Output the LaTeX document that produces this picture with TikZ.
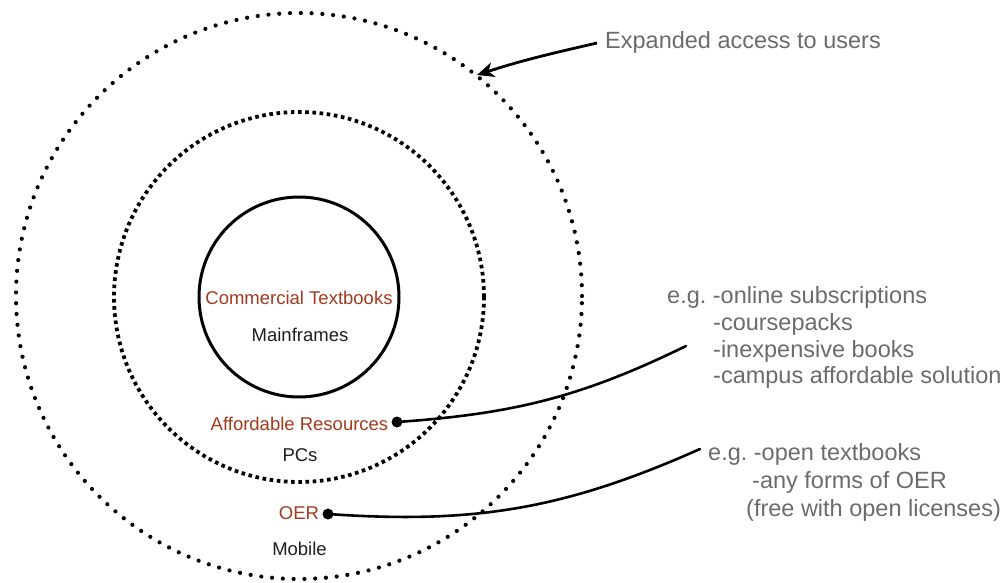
\documentclass[tikz,border=0pt]{standalone}
\usepackage{fontspec}
\setmainfont{Liberation Sans}
\usetikzlibrary{arrows.meta}
\definecolor{labred}{HTML}{A33A1F}
\definecolor{notegray}{HTML}{6B6B6B}
\definecolor{labblack}{HTML}{1E1E1E}
\tikzset{
  ring/.style={draw=black, circle, inner sep=0pt},
  solidring/.style={ring, line width=3pt},
  fineDots/.style={ring, line width=3.8pt, dash pattern=on 3.6pt off 3.6pt, line cap=butt},
  wideDots/.style={ring, line width=4.2pt, dash pattern=on 0pt off 10.8pt, line cap=round},
  redlabel/.style={inner sep=0pt, anchor=base, text=labred, font=\fontsize{18.5}{22}\selectfont},
  blacklabel/.style={inner sep=0pt, anchor=base, text=labblack, font=\fontsize{18.5}{22}\selectfont},
  note/.style={inner sep=0pt, anchor=base west, text=notegray, font=\fontsize{23.5}{27}\selectfont\frenchspacing},
  dotmark/.style={circle, fill=black, inner sep=0pt, minimum size=11pt},
  conn/.style={draw=black, line width=2.6pt, line cap=round},
  pointer/.style={draw=black, line width=2.8pt, -{Stealth[length=17pt,width=15pt,inset=5pt]}}
}
\begin{document}
\begin{tikzpicture}[x=1pt,y=1pt]
\useasboundingbox (0,0) rectangle (1005,582);
% rings
\node[wideDots, minimum size=566pt] (outer) at (299,286) {};
\node[fineDots, minimum size=370pt] (middle) at (299,285) {};
\node[solidring, minimum size=200pt] (inner) at (299,285) {};
% labels
\node[redlabel] (ct) at (299,277) {Commercial Textbooks};
\node[blacklabel] (mf) at (300,240.3) {Mainframes};
\node[redlabel] (ar) at (299.5,152) {Affordable Resources};
\node[blacklabel] (pc) at (300,120.3) {PCs};
\node[redlabel] (oer) at (299,63) {OER};
\node[blacklabel] (mob) at (299.5,27) {Mobile};
% dots
\node[dotmark] (d1) at (397,160) {};
\node[dotmark] (d2) at (328,68) {};
% notes
\node[note] (exp) at (605,533) {Expanded access to users};
\node[note] (n11) at (667,278.5) {e.g. -online subscriptions};
\node[note] (n12) at (713,251.7) {-coursepacks};
\node[note] (n13) at (713,225) {-inexpensive books};
\node[note] (n14) at (713,198.2) {-campus affordable solution};
\node[note] (n21) at (708,121.3) {e.g. -open textbooks};
\node[note] (n22) at (752,94) {-any forms of OER};
\node[note] (n23) at (746,66) {(free with open licenses)};
% connector ends
\coordinate (e1) at (686,236);
\coordinate (e2) at (700,133);
\coordinate (atail) at (597,539);
\coordinate (ahead) at (477,507);
% connectors
\draw[conn] (d1.center) to[out=4,in=206] (e1);
\draw[conn] (d2.center) to[out=-4,in=204] (e2);
\draw[pointer] (atail) to[out=193,in=18] (ahead);
\end{tikzpicture}
\end{document}
